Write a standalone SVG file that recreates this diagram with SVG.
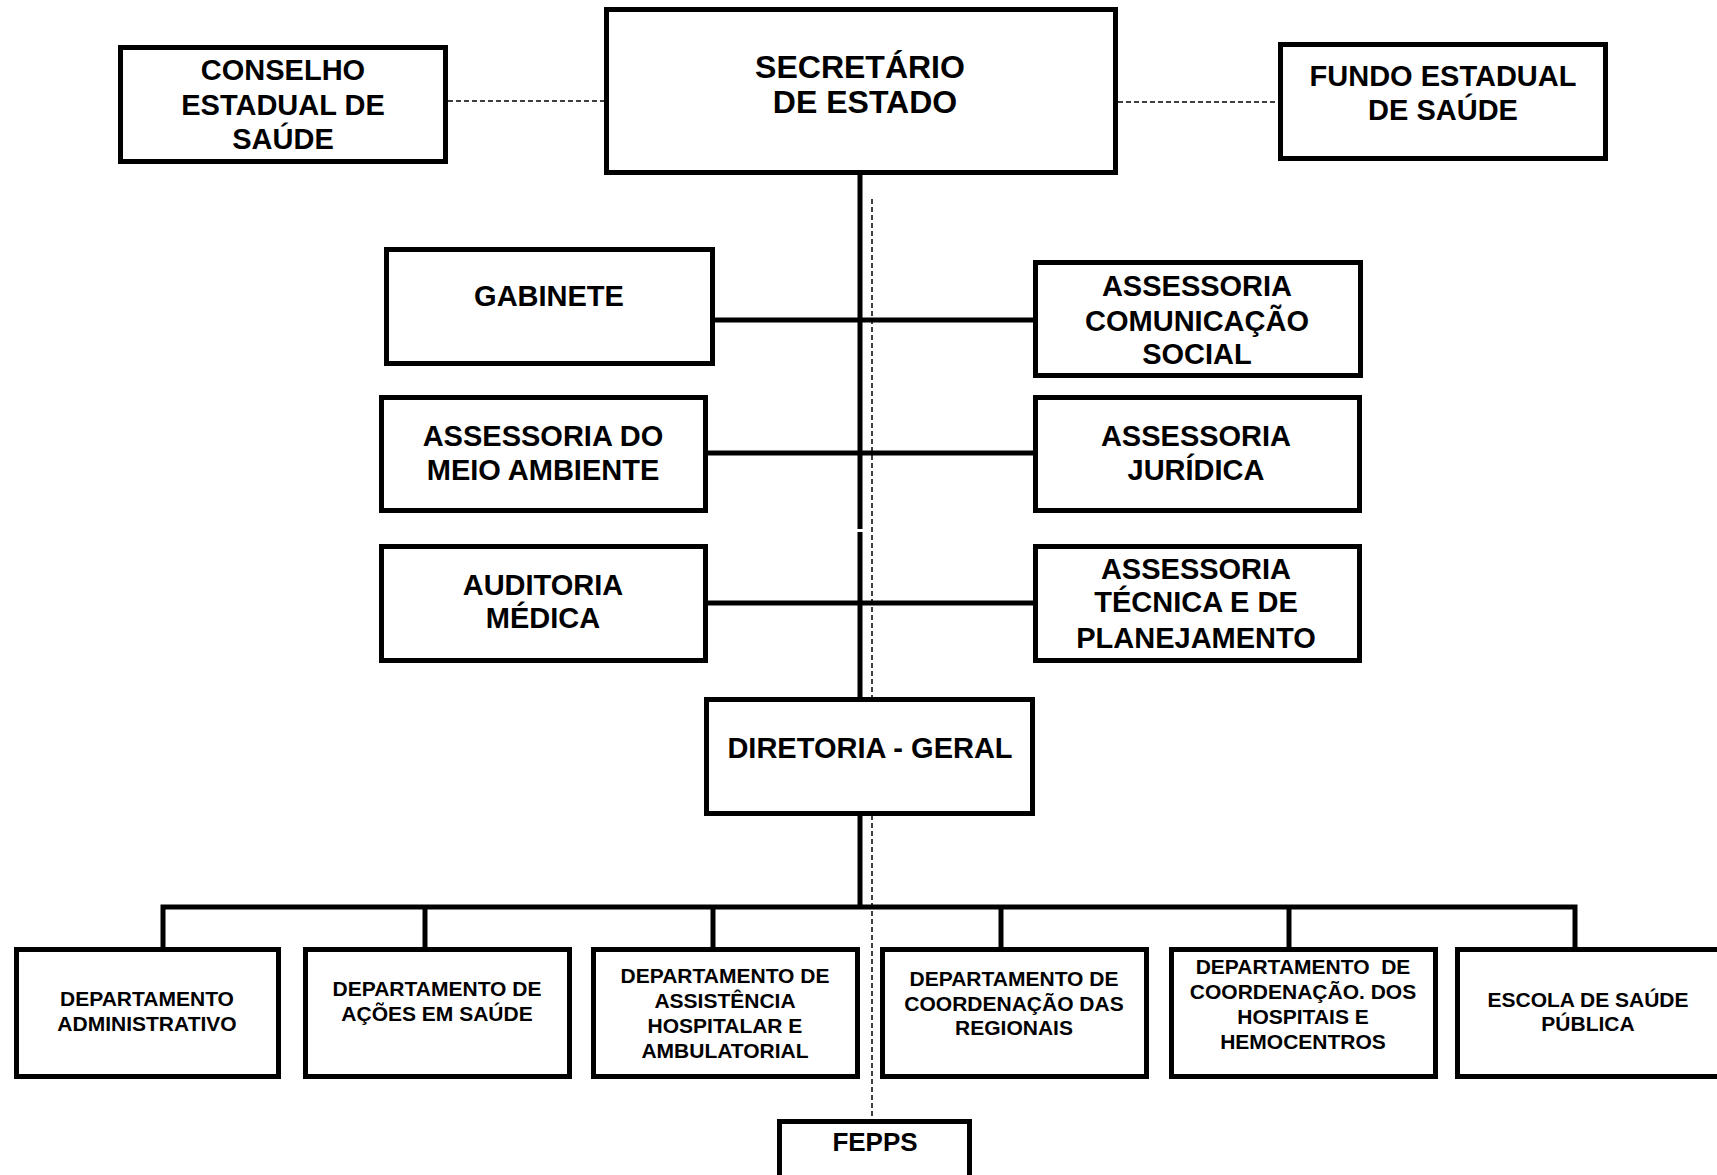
<svg xmlns="http://www.w3.org/2000/svg" width="1717" height="1175" viewBox="0 0 1717 1175">
<style>
.box{fill:#fff;stroke:#000;stroke-width:5}
.ln{fill:none;stroke:#000;stroke-width:5}
.dash{fill:none;stroke:#000;stroke-width:1.5;stroke-dasharray:5 3}
text{font-family:"Liberation Sans",Arial,sans-serif;font-weight:bold;fill:#000;text-anchor:middle}
.t32{font-size:32px}
.t29{font-size:29px}
.t26{font-size:26px}
.t21{font-size:21px}
</style>
<rect width="1717" height="1175" fill="#fff"/>
<g id="connectors">
<line class="dash" x1="448" y1="101" x2="604" y2="101"/>
<line class="dash" x1="1118" y1="102" x2="1278" y2="102"/>
<line class="dash" x1="872" y1="199" x2="872" y2="1119"/>
<line class="ln" x1="860" y1="175" x2="860" y2="529"/>
<line class="ln" x1="860" y1="532" x2="860" y2="697"/>
<line class="ln" x1="715" y1="320" x2="1033" y2="320"/>
<line class="ln" x1="708" y1="453" x2="1033" y2="453"/>
<line class="ln" x1="708" y1="603" x2="1033" y2="603"/>
<line class="ln" x1="860" y1="816" x2="860" y2="907"/>
<path class="ln" d="M163,947 V907 H1575 V947"/>
<line class="ln" x1="425" y1="907" x2="425" y2="947"/>
<line class="ln" x1="713" y1="907" x2="713" y2="947"/>
<line class="ln" x1="1001" y1="907" x2="1001" y2="947"/>
<line class="ln" x1="1289" y1="907" x2="1289" y2="947"/>
</g>
<g id="conselho">
<rect class="box" x="120.5" y="47.5" width="325" height="114"/>
<text class="t29" x="283" y="80">CONSELHO</text>
<text class="t29" x="283" y="115">ESTADUAL DE</text>
<text class="t29" x="283" y="149">SAÚDE</text>
</g>
<g id="secretario">
<rect class="box" x="606.5" y="9.5" width="509" height="163"/>
<text class="t32" x="860" y="78">SECRETÁRIO</text>
<text class="t32" x="865" y="113">DE ESTADO</text>
</g>
<g id="fundo">
<rect class="box" x="1280.5" y="44.5" width="325" height="114"/>
<text class="t29" x="1443" y="86">FUNDO ESTADUAL</text>
<text class="t29" x="1443" y="120">DE SAÚDE</text>
</g>
<g id="gabinete">
<rect class="box" x="386.5" y="249.5" width="326" height="114"/>
<text class="t29" x="549" y="306">GABINETE</text>
</g>
<g id="ass-comunicacao">
<rect class="box" x="1035.5" y="262.5" width="325" height="113"/>
<text class="t29" x="1197" y="296">ASSESSORIA</text>
<text class="t29" x="1197" y="331">COMUNICAÇÃO</text>
<text class="t29" x="1197" y="364">SOCIAL</text>
</g>
<g id="ass-meio-ambiente">
<rect class="box" x="381.5" y="397.5" width="324" height="113"/>
<text class="t29" x="543" y="446">ASSESSORIA DO</text>
<text class="t29" x="543" y="480">MEIO AMBIENTE</text>
</g>
<g id="ass-juridica">
<rect class="box" x="1035.5" y="397.5" width="324" height="113"/>
<text class="t29" x="1196" y="446">ASSESSORIA</text>
<text class="t29" x="1196" y="480">JURÍDICA</text>
</g>
<g id="auditoria">
<rect class="box" x="381.5" y="546.5" width="324" height="114"/>
<text class="t29" x="543" y="595">AUDITORIA</text>
<text class="t29" x="543" y="628">MÉDICA</text>
</g>
<g id="ass-tecnica">
<rect class="box" x="1035.5" y="546.5" width="324" height="114"/>
<text class="t29" x="1196" y="579">ASSESSORIA</text>
<text class="t29" x="1196" y="612">TÉCNICA E DE</text>
<text class="t29" x="1196" y="648">PLANEJAMENTO</text>
</g>
<g id="diretoria">
<rect class="box" x="706.5" y="699.5" width="326" height="114"/>
<text class="t29" x="870" y="758">DIRETORIA - GERAL</text>
</g>
<g id="dep-adm">
<rect class="box" x="16.5" y="949.5" width="262" height="127"/>
<text class="t21" x="147" y="1006">DEPARTAMENTO</text>
<text class="t21" x="147" y="1031">ADMINISTRATIVO</text>
</g>
<g id="dep-acoes">
<rect class="box" x="305.5" y="949.5" width="264" height="127"/>
<text class="t21" x="437" y="996">DEPARTAMENTO DE</text>
<text class="t21" x="437" y="1021">AÇÕES EM SAÚDE</text>
</g>
<g id="dep-assistencia">
<rect class="box" x="593.5" y="949.5" width="264" height="127"/>
<text class="t21" x="725" y="983">DEPARTAMENTO DE</text>
<text class="t21" x="725" y="1008">ASSISTÊNCIA</text>
<text class="t21" x="725" y="1033">HOSPITALAR E</text>
<text class="t21" x="725" y="1058">AMBULATORIAL</text>
</g>
<g id="dep-regionais">
<rect class="box" x="882.5" y="949.5" width="264" height="127"/>
<text class="t21" x="1014" y="986">DEPARTAMENTO DE</text>
<text class="t21" x="1014" y="1011">COORDENAÇÃO DAS</text>
<text class="t21" x="1014" y="1035">REGIONAIS</text>
</g>
<g id="dep-hospitais">
<rect class="box" x="1171.5" y="949.5" width="264" height="127"/>
<text class="t21" x="1303" y="974" xml:space="preserve">DEPARTAMENTO  DE</text>
<text class="t21" x="1303" y="999">COORDENAÇÃO. DOS</text>
<text class="t21" x="1303" y="1024">HOSPITAIS E</text>
<text class="t21" x="1303" y="1049">HEMOCENTROS</text>
</g>
<g id="escola">
<rect class="box" x="1457.5" y="949.5" width="264" height="127"/>
<text class="t21" x="1588" y="1007">ESCOLA DE SAÚDE</text>
<text class="t21" x="1588" y="1031">PÚBLICA</text>
</g>
<g id="fepps">
<rect class="box" x="779.5" y="1121.5" width="190" height="100"/>
<text class="t26" x="875" y="1151">FEPPS</text>
</g>
</svg>
